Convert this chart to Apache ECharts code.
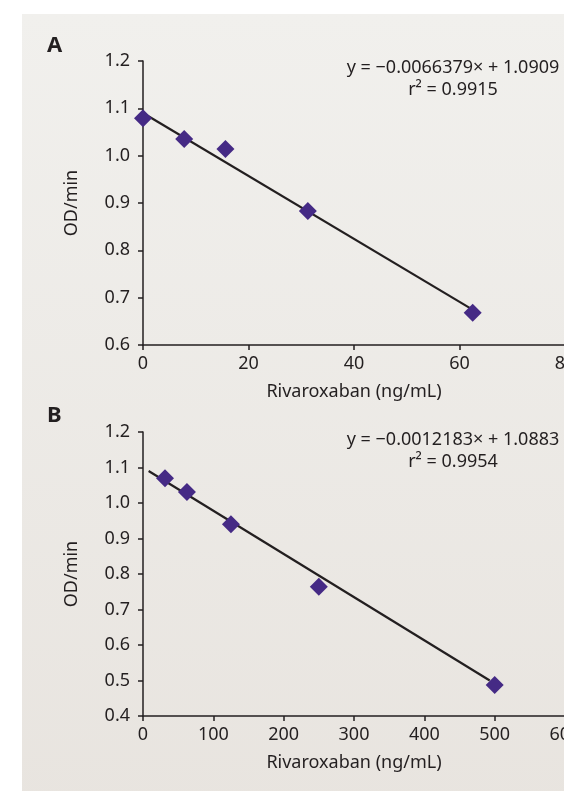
<!DOCTYPE html>
<html>
<head>
<meta charset="utf-8">
<script src="https://cdn.jsdelivr.net/npm/echarts@6/dist/echarts.min.js"></script>
<style>
  html, body { margin: 0; padding: 0; background: #ffffff; overflow: hidden; }
  #chart { width: 100vw; height: 100vh; }
</style>
</head>
<body>
<div id="chart"></div>
<script>
// 面板 A 数据
const doseA = [0, 7.8125, 15.625, 31.25, 62.5];
const odA = [1.079, 1.035, 1.014, 0.883, 0.668];
const trendA = [[0, 1.09], [62, 0.678]];
const ticksA = [0.6, 0.7, 0.8, 0.9, 1.0, 1.1, 1.2];

// 面板 B 数据
const doseB = [31.25, 62.5, 125, 250, 500];
const odB = [1.070, 1.031, 0.940, 0.764, 0.487];
const trendB = [[8, 1.09], [493, 0.50]];
const ticksB = [0.4, 0.5, 0.6, 0.7, 0.8, 0.9, 1.0, 1.1, 1.2];

const eqA = ['y = \u22120.0066379\u00d7 + 1.0909', 'r\u00b2 = 0.9915'];
const eqB = ['y = \u22120.0012183\u00d7 + 1.0883', 'r\u00b2 = 0.9954'];

const ink = '#231f20';
const purple = '#452a85';
const font = 'Noto Sans';

const chart = echarts.init(document.getElementById('chart'));

function xAxisOf(idx, max, interval) {
  return {
    type: 'value', gridIndex: idx, min: 0, max: max, interval: interval,
    name: 'Rivaroxaban (ng/mL)', nameLocation: 'middle', nameGap: 38,
    nameTextStyle: {color: ink, fontSize: 18, fontFamily: font},
    axisLine: {onZero: false, lineStyle: {color: ink, width: 1.5}},
    axisTick: {length: 5, lineStyle: {color: ink, width: 1.5}},
    axisLabel: {color: ink, fontSize: 18, fontFamily: font, margin: 10},
    splitLine: {show: false}
  };
}

function yAxisOf(idx, ticks) {
  return {
    type: 'value', gridIndex: idx, min: ticks[0], max: ticks[ticks.length - 1], interval: 0.1,
    name: 'OD/min', nameLocation: 'middle', nameGap: 62,
    nameTextStyle: {color: ink, fontSize: 18, fontFamily: font},
    axisLine: {lineStyle: {color: ink, width: 1.5}},
    axisTick: {length: 5, lineStyle: {color: ink, width: 1.5}},
    axisLabel: {color: ink, fontSize: 18, fontFamily: font, margin: 13,
      formatter: v => v.toFixed(1)},
    splitLine: {show: false}
  };
}

// 回归方程文字，两行居中
function eqText(lines, top) {
  return lines.map((t, i) => ({
    type: 'text', z: 10,
    x: 453, y: top + i * 22,
    style: {text: t, fill: ink, fontSize: 18, fontFamily: font,
      textAlign: 'center', textVerticalAlign: 'middle'}
  }));
}

const option = {
  animation: false,
  backgroundColor: '#ffffff',
  graphic: [
    // 灰色背景面板
    {
      type: 'rect', z: -10, silent: true,
      shape: {x: 22, y: 14, width: 2000, height: 2000},
      style: {fill: new echarts.graphic.LinearGradient(0, 0, 0, 0.4, [
        {offset: 0, color: '#f1f0ed'},
        {offset: 1, color: '#e8e4df'}
      ])}
    },
    {type: 'text', x: 47, y: 46, style: {text: 'A', fill: ink, fontSize: 22,
      fontWeight: 'bold', fontFamily: font, textVerticalAlign: 'middle'}},
    {type: 'text', x: 47, y: 416, style: {text: 'B', fill: ink, fontSize: 22,
      fontWeight: 'bold', fontFamily: font, textVerticalAlign: 'middle'}},
    ...eqText(eqA, 68),
    ...eqText(eqB, 440)
  ],
  // 右端刻度超出画布，需关闭 v6 的 outerBounds 自动收缩
  grid: [
    {left: 143, top: 61, width: 422, height: 284, containLabel: false, outerBoundsMode: 'none'},
    {left: 143, top: 432, width: 422, height: 284, containLabel: false, outerBoundsMode: 'none'}
  ],
  xAxis: [xAxisOf(0, 80, 20), xAxisOf(1, 600, 100)],
  yAxis: [yAxisOf(0, ticksA), yAxisOf(1, ticksB)],
  series: [
    {
      type: 'line', xAxisIndex: 0, yAxisIndex: 0, data: trendA,
      symbol: 'none', lineStyle: {color: ink, width: 2.2}, z: 2
    },
    {
      type: 'scatter', xAxisIndex: 0, yAxisIndex: 0,
      data: doseA.map((d, i) => [d, odA[i]]),
      symbol: 'diamond', symbolSize: [18, 18], itemStyle: {color: purple, opacity: 1}, z: 3
    },
    {
      type: 'line', xAxisIndex: 1, yAxisIndex: 1, data: trendB,
      symbol: 'none', lineStyle: {color: ink, width: 2.2}, z: 2
    },
    {
      type: 'scatter', xAxisIndex: 1, yAxisIndex: 1,
      data: doseB.map((d, i) => [d, odB[i]]),
      symbol: 'diamond', symbolSize: [18, 18], itemStyle: {color: purple, opacity: 1}, z: 3
    }
  ]
};

chart.setOption(option);
window.addEventListener('resize', () => chart.resize());
</script>
</body>
</html>
